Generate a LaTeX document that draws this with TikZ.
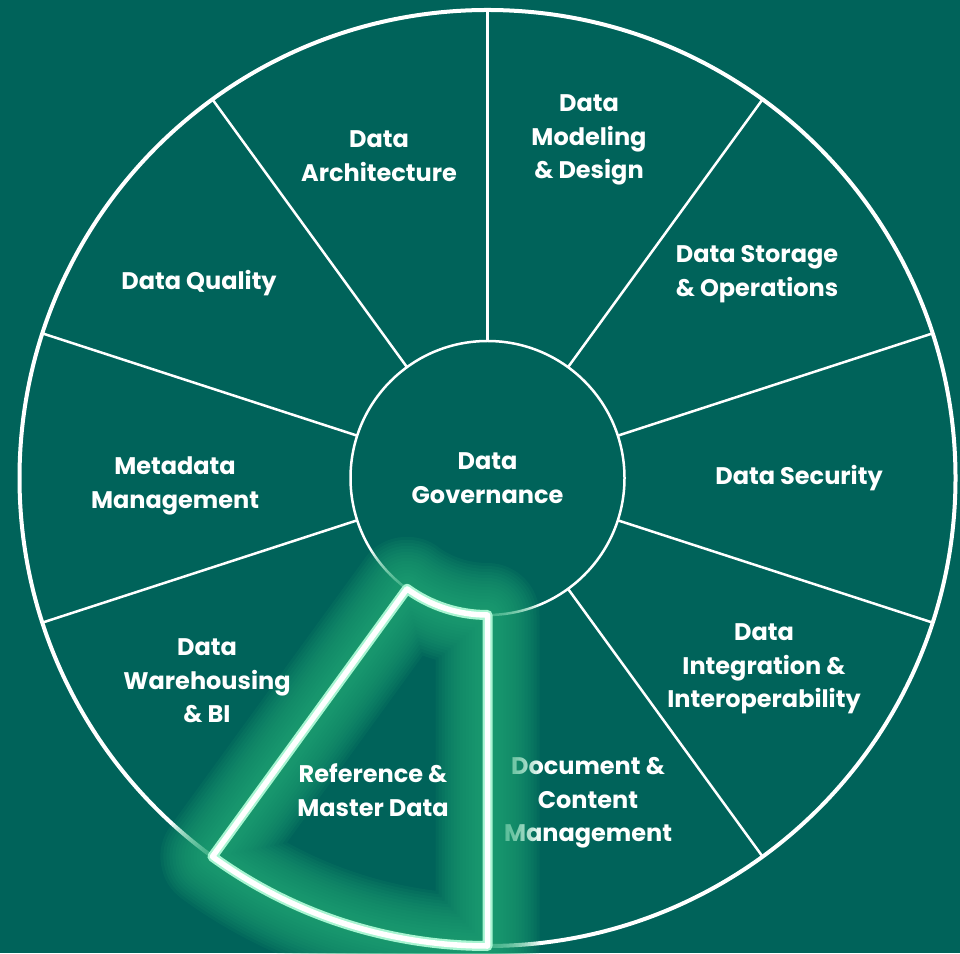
\documentclass[tikz,border=0pt]{standalone}
\usepackage{fontspec}
\setmainfont{Poppins}
\definecolor{bg}{HTML}{00635A}
\definecolor{glow}{HTML}{22A876}
\definecolor{mint}{HTML}{A8F5D2}
\tikzset{
  lbl/.style={text=white, align=center, font=\fontsize{24}{33.5}\selectfont\bfseries},
  spoke/.style={draw=white, line width=2.5pt},
  seg/.style={line join=round},
}
\begin{document}
\begin{tikzpicture}[x=1pt,y=1pt]
\fill[bg] (0,0) rectangle (960,953);
\useasboundingbox (0,0) rectangle (960,953);
\coordinate (c) at (487.5,475);
\node[circle, draw=white, line width=4pt, minimum size=936pt, inner sep=0pt, outer sep=0pt] (outer) at (c) {};
\node[circle, draw=white, line width=2.5pt, minimum size=274pt, inner sep=0pt, outer sep=0pt] (gov) at (c) {};
\foreach \a in {90,54,18,-18,-54,-90,-126,-162,162,126}
  \draw[spoke] (gov.\a) -- (outer.\a);
\node[lbl] (t6) at (588,150) {Document \&\\Content\\Management};
% glow around highlighted segment
\begin{scope}[shift={(-2,3)}]
\foreach \w in {104,98,...,8}
  \draw[glow, line width=\w pt, opacity=0.1, seg]
    (gov.-126) -- (outer.-126) arc[start angle=-126, end angle=-90, radius=468pt]
    -- (gov.-90) arc[start angle=-90, end angle=-126, radius=137pt] -- cycle;
\draw[mint, line width=10pt, seg]
    (gov.-126) -- (outer.-126) arc[start angle=-126, end angle=-90, radius=468pt]
    -- (gov.-90) arc[start angle=-90, end angle=-126, radius=137pt] -- cycle;
\draw[white, line width=5.5pt, seg]
    (gov.-126) -- (outer.-126) arc[start angle=-126, end angle=-90, radius=468pt]
    -- (gov.-90) arc[start angle=-90, end angle=-126, radius=137pt] -- cycle;
\end{scope}
% labels
\node[lbl] (t0) at (c) {Data\\Governance};
\node[lbl] (t1) at (379,797) {Data\\Architecture};
\node[lbl] (t2) at (589,813) {Data\\Modeling\\\& Design};
\node[lbl] (t3) at (757,679) {Data Storage\\\& Operations};
\node[lbl] (t4) at (799,475) {Data Security};
\node[lbl] (t5) at (764,284) {Data\\Integration \&\\Interoperability};
\node[lbl] (t8) at (207,272) {Data\\Warehousing\\\& BI};
\node[lbl] (t9) at (175,467) {Metadata\\Management};
\node[lbl] (t10) at (199,670) {Data Quality};
\node[lbl] (t7) at (373,163) {Reference \&\\Master Data};
\end{tikzpicture}
\end{document}
